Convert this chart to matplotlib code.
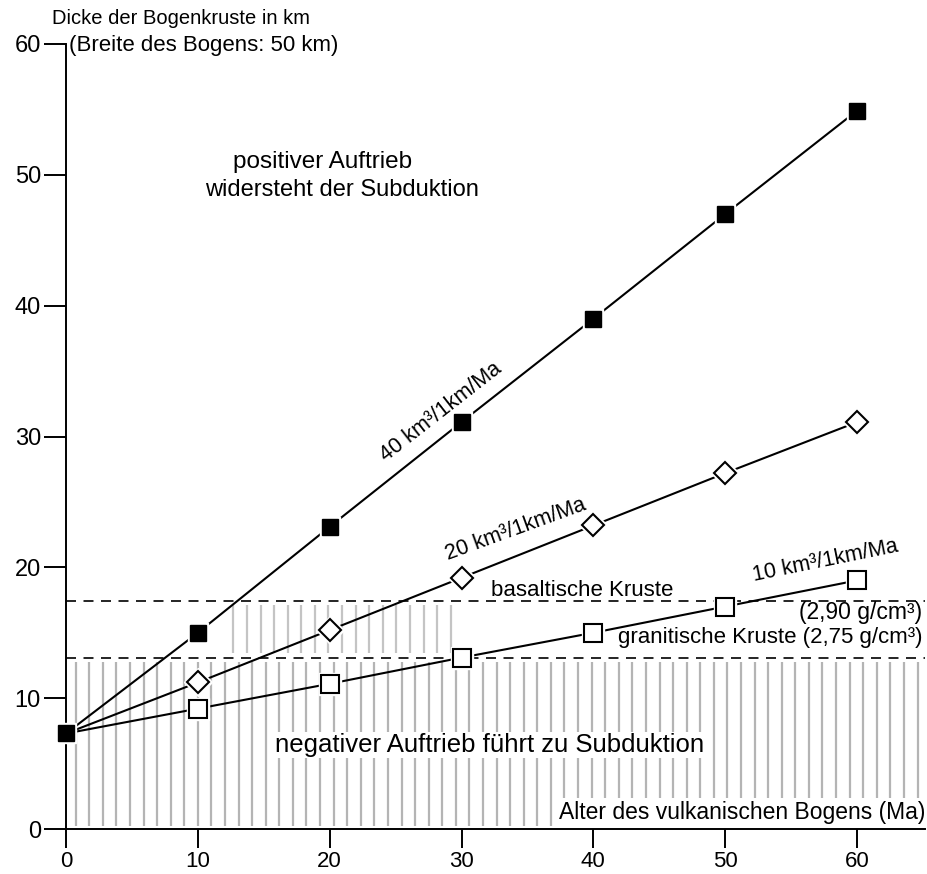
import numpy as np
import matplotlib
matplotlib.use("Agg")
import matplotlib.pyplot as plt

plt.rcParams['font.family'] = ['Liberation Sans', 'DejaVu Sans']

# ---- data ----
age = [0, 10, 20, 30, 40, 50, 60]
rate40 = [7.3, 15.0, 23.1, 31.1, 39.0, 47.0, 54.9]
rate20 = [7.3, 11.2, 15.2, 19.2, 23.2, 27.2, 31.1]
rate10 = [7.3, 9.2, 11.1, 13.1, 15.0, 17.0, 19.0]
basalt_level = 17.4
granite_level = 13.1
x_ticks = [0, 10, 20, 30, 40, 50, 60]
y_ticks = [0, 10, 20, 30, 40, 50, 60]

W, H = 927, 874
fig = plt.figure(figsize=(W / 100, H / 100), dpi=100)
x0px, x60px = 66, 857
y0px, y60px = 829, 44
sx = (x60px - x0px) / 60.0
sy = (y0px - y60px) / 60.0
xmax = (925 - x0px) / sx
ax = fig.add_axes([x0px / W, (H - y0px) / H, (925 - x0px) / W, (y0px - y60px) / H])
ax.set_xlim(0, xmax)
ax.set_ylim(0, 60)

for s in ['top', 'right']:
    ax.spines[s].set_visible(False)
for s in ['left', 'bottom']:
    ax.spines[s].set_linewidth(1.4)
ax.set_xticks(x_ticks)
ax.set_yticks(y_ticks)
ax.tick_params(axis='x', direction='out', length=14, width=1.4, labelsize=16, pad=1.5)
ax.tick_params(axis='y', direction='out', length=16, width=1.4, labelsize=17, pad=2)

# ---- hatch (vertical grey lines) ----
lower_x = np.arange(0.73, xmax - 0.2, 1.03)
ax.vlines(lower_x, 0.25, granite_level - 0.3, colors='#b4b4b4', lw=1.6, zorder=1)
upper_x = np.arange(12.7, 30.0, 1.03)
ax.vlines(upper_x, granite_level + 0.35, basalt_level - 0.3, colors='#c4c4c4', lw=1.6, zorder=1)

# ---- dashed crust levels ----
for lvl in (basalt_level, granite_level):
    ax.plot([0, xmax], [lvl, lvl], color='black', lw=1.2, dashes=(6, 4.5), zorder=2)

# ---- series ----
ax.plot(age, rate40, color='black', lw=1.5, zorder=4)
ax.plot(age, rate20, color='black', lw=1.5, zorder=4)
ax.plot(age, rate10, color='black', lw=1.5, zorder=4)

# white halo so lines stop short of markers
ax.plot(age, rate40, ls='none', marker='s', ms=15, mfc='white', mec='white', zorder=5, clip_on=False)
ax.plot(age[1:], rate20[1:], ls='none', marker='D', ms=14, mfc='white', mec='white', zorder=5)
ax.plot(age[1:], rate10[1:], ls='none', marker='s', ms=16, mfc='white', mec='white', zorder=5)

ax.plot(age, rate40, ls='none', marker='s', ms=11.5, mfc='black', mec='black', zorder=6, clip_on=False)
ax.plot(age[1:], rate20[1:], ls='none', marker='D', ms=11.5, mfc='white', mec='black', mew=1.5, zorder=6)
ax.plot(age[1:], rate10[1:], ls='none', marker='s', ms=12.5, mfc='white', mec='black', mew=1.5, zorder=6)

def px2d(px, py):
    return (px - x0px) / sx, (y0px - py) / sy

# ---- texts ----
tx, ty = px2d(52, 18)
ax.text(tx, ty, 'Dicke der Bogenkruste in km', fontsize=14.5, ha='left', va='center', clip_on=False)
tx, ty = px2d(69, 45)
ax.text(tx, ty, '(Breite des Bogens: 50 km)', fontsize=16, ha='left', va='center', clip_on=False)

tx, ty = px2d(233, 162)
ax.text(tx, ty, 'positiver Auftrieb', fontsize=17.5, ha='left', va='center')
tx, ty = px2d(342, 190)
ax.text(tx, ty, 'widersteht der Subduktion', fontsize=17, ha='center', va='center')

tx, ty = px2d(490, 745)
ax.text(tx, ty, 'negativer Auftrieb führt zu Subduktion', fontsize=18.5, ha='center', va='center',
        zorder=3, bbox=dict(boxstyle='square,pad=0.05', fc='white', ec='none'))

tx, ty = px2d(925, 812)
ax.text(tx, ty, 'Alter des vulkanischen Bogens (Ma)', fontsize=16.5, ha='right', va='center',
        zorder=3, clip_on=False, bbox=dict(boxstyle='square,pad=0.1', fc='white', ec='none'))

tx, ty = px2d(582, 590)
ax.text(tx, ty, 'basaltische Kruste', fontsize=16, ha='center', va='center', zorder=3)
tx, ty = px2d(922, 612)
ax.text(tx, ty, '(2,90 g/cm³)', fontsize=16.5, ha='right', va='center', zorder=3, clip_on=False)
tx, ty = px2d(922, 638)
ax.text(tx, ty, 'granitische Kruste (2,75 g/cm³)', fontsize=16, ha='right', va='center', zorder=3, clip_on=False)

tx, ty = px2d(441, 412)
ax.text(tx, ty, '40 km³/1km/Ma', fontsize=15.5, ha='center', va='center', rotation=38, rotation_mode='anchor')
tx, ty = px2d(516, 530)
ax.text(tx, ty, '20 km³/1km/Ma', fontsize=15.5, ha='center', va='center', rotation=20, rotation_mode='anchor')
tx, ty = px2d(825, 561)
ax.text(tx, ty, '10 km³/1km/Ma', fontsize=15.5, ha='center', va='center', rotation=11.5, rotation_mode='anchor')

fig.savefig('out.png', dpi=100)
